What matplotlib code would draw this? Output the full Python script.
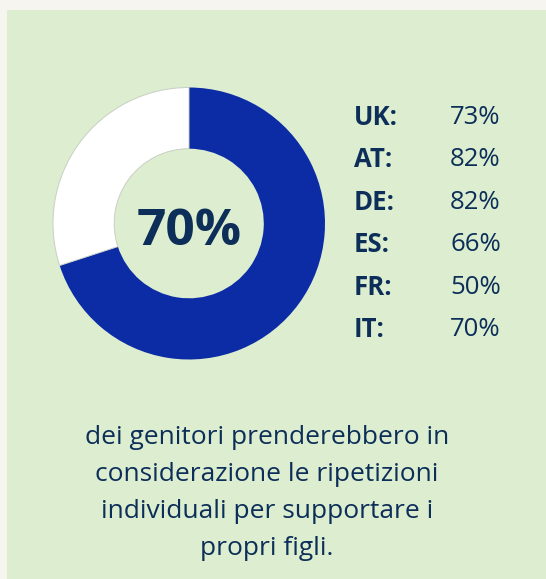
import matplotlib
matplotlib.use("Agg")
import matplotlib.pyplot as plt
from matplotlib.patches import Rectangle

# Data
headline_value = 70
countries = ["UK:", "AT:", "DE:", "ES:", "FR:", "IT:"]
shares = [73, 82, 82, 66, 50, 70]
caption_lines = [
    "dei genitori prenderebbero in",
    "considerazione le ripetizioni",
    "individuali per supportare i",
    "propri figli.",
]

W, H = 546, 579
DPI = 100
BG_OUTER = "#f7f5f0"
BG_PANEL = "#dcedd0"
BLUE = "#0b2ca4"
NAVY = "#0c2e58"
FONT = "Open Sans"

fig = plt.figure(figsize=(W / DPI, H / DPI), dpi=DPI)
fig.patch.set_facecolor(BG_OUTER)

# Green panel
fig.patches.append(Rectangle((7 / W, 0), 1 - 7 / W, (H - 10) / H,
                             transform=fig.transFigure, facecolor=BG_PANEL,
                             edgecolor="none", zorder=-5))

# Donut
cx, cy, r = 189, 223.5, 136
ax = fig.add_axes([(cx - r) / W, (H - cy - r) / H, 2 * r / W, 2 * r / H])
ax.set_zorder(2)
ax.set_facecolor("none")
wedges, _ = ax.pie([headline_value, 100 - headline_value],
                   colors=[BLUE, "white"], startangle=90, counterclock=False,
                   radius=1.0, wedgeprops=dict(width=0.45, linewidth=0))
wedges[1].set_edgecolor("#c9cfc4")
wedges[1].set_linewidth(0.7)
ax.set_xlim(-1.0, 1.0)
ax.set_ylim(-1.0, 1.0)
ax.set_aspect("equal")
ax.axis("off")

ax.text(0, -0.06, f"{headline_value}%", ha="center", va="center",
        transform=ax.transData, fontsize=37, fontweight="bold", color=NAVY,
        family=FONT)

# Country table
row0, step = 117.5, 42.4
for i, (c, v) in enumerate(zip(countries, shares)):
    y = 1 - (row0 + i * step) / H
    fig.text(354 / W, y, c, ha="left", va="center", fontsize=18.5,
             fontweight="bold", color=NAVY, family=FONT)
    fig.text(450 / W, y, f"{v}%", ha="left", va="center", fontsize=18.5,
             color=NAVY, family=FONT)

# Caption
for i, line in enumerate(caption_lines):
    y = 1 - (438 + i * 36.7) / H
    fig.text(267 / W, y, line, ha="center", va="center", fontsize=19,
             color=NAVY, family=FONT)

fig.savefig("out.png", dpi=DPI, facecolor=fig.get_facecolor())
